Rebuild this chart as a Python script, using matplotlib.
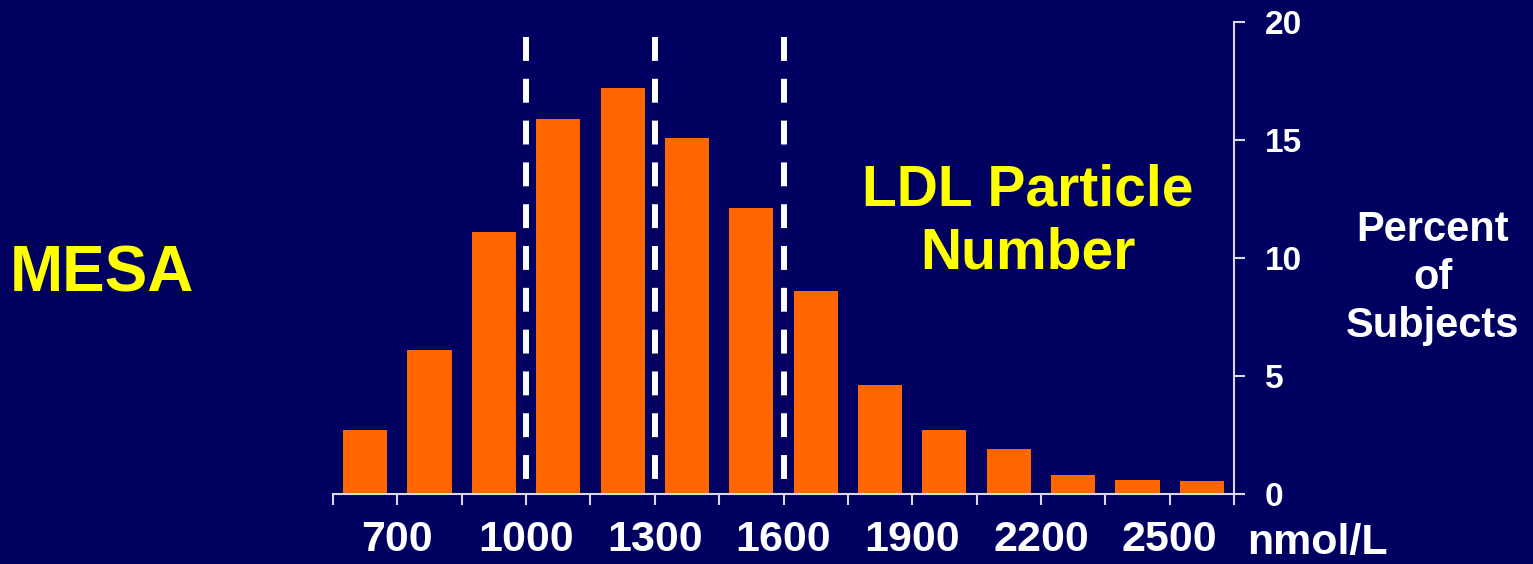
"""MESA: LDL particle number distribution"""

import matplotlib.pyplot as plt

# bin edges (nmol/L), every 150
bin_edges = [550, 700, 850, 1000, 1150, 1300, 1450, 1600, 1750, 1900,
             2050, 2200, 2350, 2500, 2650]
# percent of subjects per bin
percent = [2.7, 6.1, 11.1, 15.9, 17.2, 15.1, 12.1, 8.6, 4.6, 2.7,
           1.9, 0.8, 0.6, 0.55]
# labelled x ticks
x_labels = [700, 1000, 1300, 1600, 1900, 2200, 2500]
y_ticks = [0, 5, 10, 15, 20]
# cut points drawn as dashed lines
cut_points = [1000, 1300, 1600]

bg = '#000060'
plt.rcParams['font.family'] = ['Liberation Sans', 'DejaVu Sans']
plt.rcParams['font.weight'] = 'bold'

fig = plt.figure(figsize=(15.33, 5.64), dpi=100, facecolor=bg)
ax = fig.add_axes([333 / 1533, 70 / 564, 901 / 1533, 472 / 564])
ax.set_facecolor(bg)

centers = [(bin_edges[i] + bin_edges[i + 1]) / 2 for i in range(len(percent))]
ax.bar(centers, percent, width=103, color='#FF6600', zorder=2)

# dashed cut lines, dash pattern starting from the top
for c in cut_points:
    ax.plot([c, c], [19.35, 0], color='white', lw=4.3,
            dashes=(4.0, 3.0), solid_capstyle='butt', dash_capstyle='butt',
            zorder=3)

ax.set_xlim(bin_edges[0], bin_edges[-1])
ax.set_ylim(0, 20)

for s in ['top', 'left']:
    ax.spines[s].set_visible(False)
for s in ['bottom', 'right']:
    ax.spines[s].set_color('#D8D8E8')
    ax.spines[s].set_linewidth(1.5)

ax.set_xticks(bin_edges)
ax.set_xticklabels([str(v) if v in x_labels else '' for v in bin_edges])
ax.yaxis.tick_right()
ax.set_yticks(y_ticks)
ax.tick_params(axis='x', direction='out', length=8, width=1.5,
               color='#D8D8E8', labelcolor='white', labelsize=31, pad=11)
ax.tick_params(axis='y', direction='out', length=8, width=1.5,
               color='#D8D8E8', labelcolor='white', labelsize=24, pad=14)
for lbl in ax.get_xticklabels() + ax.get_yticklabels():
    lbl.set_fontweight('bold')

fig.text(1247 / 1533, 10 / 564, 'nmol/L', color='white', fontsize=31,
         fontweight='bold', ha='left', va='baseline')
fig.text(1433 / 1533, 1 - 278 / 564, 'Percent\nof\nSubjects', color='white',
         fontsize=30, fontweight='bold', ha='center', va='center',
         linespacing=1.25)
fig.text(102 / 1533, 1 - 275 / 564, 'MESA', color='#FFFF00', fontsize=46,
         fontweight='bold', ha='center', va='center')
fig.text(1028 / 1533, 1 - 222 / 564, 'LDL Particle\nNumber', color='#FFFF00',
         fontsize=41, fontweight='bold', ha='center', va='center',
         linespacing=1.22)

fig.savefig('out.png', dpi=100, facecolor=bg)
